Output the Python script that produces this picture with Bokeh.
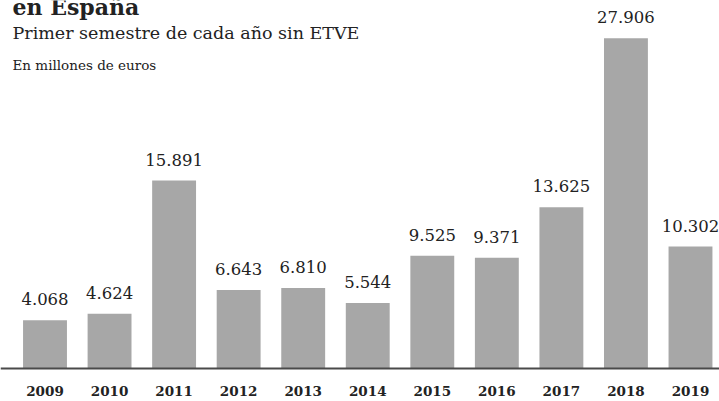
from bokeh.plotting import figure
from bokeh.models import Range1d, Span, Label, ColumnDataSource
from bokeh.core.properties import value
from bokeh.embed import file_html
from bokeh.resources import INLINE

years = [2009, 2010, 2011, 2012, 2013, 2014, 2015, 2016, 2017, 2018, 2019]
amounts = [4068, 4624, 15891, 6643, 6810, 5544, 9525, 9371, 13625, 27906, 10302]
amount_labels = ["4.068", "4.624", "15.891", "6.643", "6.810", "5.544",
                 "9.525", "9.371", "13.625", "27.906", "10.302"]
year_labels = [str(y) for y in years]

title_text = "en España"
subtitle_text = "Primer semestre de cada año sin ETVE"
unit_text = "En millones de euros"

W, H = 719, 401
src = ColumnDataSource(dict(x=years, top=amounts, lab=amount_labels,
                            ylab=year_labels, zero=[0] * len(years)))

p = figure(width=W, height=H, output_backend="svg", toolbar_location=None,
           x_range=Range1d(2008.3106, 2019.4493),
           y_range=Range1d(-2790, 31107),
           min_border_left=0, min_border_right=0,
           min_border_top=0, min_border_bottom=0)
p.xaxis.visible = False
p.yaxis.visible = False
p.grid.visible = False
p.outline_line_color = None
p.background_fill_color = "white"
p.border_fill_color = "white"

p.vbar(x="x", top="top", bottom=0, width=0.68, source=src,
       fill_color="#a7a7a7", line_color=None)

p.add_layout(Span(location=0, dimension="width", line_color="#4a4a4a",
                  line_width=2))

p.text(x="x", y="top", text="lab", source=src, y_offset=-21,
       text_align="center", text_baseline="alphabetic",
       text_font=value("DejaVu Serif"), text_font_size="16.5px",
       text_color="#222222")

p.text(x="x", y="zero", text="ylab", source=src, y_offset=23,
       text_align="center", text_baseline="middle",
       text_font=value("DejaVu Serif"), text_font_size="13.5px",
       text_font_style="bold", text_color="#222222")

p.add_layout(Label(x=12, y=H - 6, x_units="screen", y_units="screen",
                   text=title_text, text_font="DejaVu Serif",
                   text_font_size="22px", text_font_style="bold",
                   text_color="#222222", text_baseline="alphabetic"))
p.add_layout(Label(x=12, y=H - 32, x_units="screen", y_units="screen",
                   text=subtitle_text, text_font="DejaVu Serif",
                   text_font_size="17.5px", text_color="#222222",
                   text_baseline="alphabetic"))
p.add_layout(Label(x=12, y=H - 64, x_units="screen", y_units="screen",
                   text=unit_text, text_font="DejaVu Serif",
                   text_font_size="13.5px", text_color="#222222",
                   text_baseline="alphabetic"))

open("out.html", "w").write(file_html(p, INLINE))
